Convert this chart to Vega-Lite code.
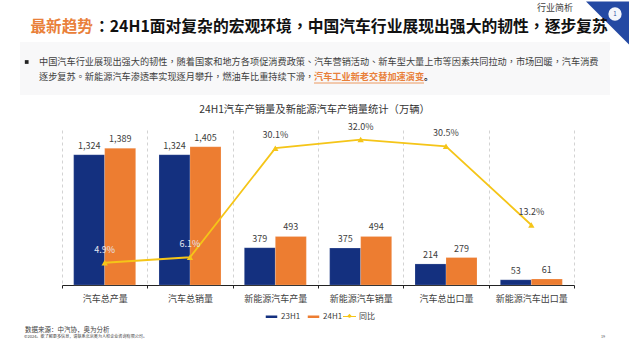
{
"$schema":"https://vega.github.io/schema/vega-lite/v6.json",
"width":512,"height":155,
"autosize":{"type":"none"},
"padding":{"left":62,"top":130,"right":56,"bottom":69},
"background":"#ffffff",
"config":{"font":"Noto Sans CJK SC","view":{"stroke":null},"text":{"font":"Noto Sans CJK SC"}},
"resolve":{"scale":{"x":"independent","y":"independent","color":"independent","size":"independent"},"axis":{"x":"independent","y":"independent"},"legend":{"color":"independent"}},
"layer":[
{"layer":[
{"data":{"values":[{"item":"panel"}]},"mark":{"type":"point","filled":true,"opacity":1,"shape":"M-11.13,-1H11.13V1H-11.13Z","size":2809,"color":"#f8f8f9"},
 "encoding":{"x":{"datum":315,"scale":{"domain":[0,630],"range":[-62,568],"nice":false,"zero":false},"axis":null},"y":{"datum":68.5,"scale":{"domain":[0,354],"range":[-130,224],"nice":false,"zero":false},"axis":null}}},
{"data":{"values":[{"item":"badge"}]},"mark":{"type":"point","filled":true,"opacity":1,"shape":"M-1,-1L1,-1L1,1Z","size":1849,"color":"#2449a3"},
 "encoding":{"x":{"datum":607.5},"y":{"datum":23}}},
{"data":{"values":[{"item":"badge"}]},"mark":{"type":"point","filled":true,"opacity":1,"shape":"circle","size":177,"color":"#f4f6fb"},
 "encoding":{"x":{"datum":615},"y":{"datum":14}}},
{"data":{"values":[{"t":"1"}]},"mark":{"type":"text","fontSize":6,"color":"#2f4f9f"},"encoding":{"x":{"datum":615},"y":{"datum":14},"text":{"field":"t"}}},
{"data":{"values":[{"t":"行业简析"}]},"mark":{"type":"text","fontSize":9,"color":"#404040","align":"left"},"encoding":{"x":{"datum":537},"y":{"datum":8},"text":{"field":"t"}}},
{"data":{"values":[{"t":"最新趋势"}]},"mark":{"type":"text","fontSize":15.6,"fontWeight":"bold","color":"#e9803a","align":"left"},"encoding":{"x":{"datum":30.5},"y":{"datum":27},"text":{"field":"t"}}},
{"data":{"values":[{"t":"：24H1面对复杂的宏观环境，中国汽车行业展现出强大的韧性，逐步复苏"}]},"mark":{"type":"text","font":"Noto Sans CJK TC","fontSize":15.8,"fontWeight":"bold","color":"#111111","align":"left"},"encoding":{"x":{"datum":94},"y":{"datum":27},"text":{"field":"t"}}},
{"data":{"values":[{"item":"bullet"}]},"mark":{"type":"point","filled":true,"opacity":1,"shape":"square","size":14,"color":"#222222"},"encoding":{"x":{"datum":26.7},"y":{"datum":62}}},
{"data":{"values":[{"t":"中国汽车行业展现出强大的韧性，随着国家和地方各项促消费政策、汽车营销活动、新车型大量上市等因素共同拉动，市场回暖，汽车消费"}]},"mark":{"type":"text","font":"Noto Sans CJK TC","fontSize":9.18,"color":"#404040","align":"left"},"encoding":{"x":{"datum":39},"y":{"datum":62},"text":{"field":"t"}}},
{"data":{"values":[{"t":"逐步复苏。新能源汽车渗透率实现逐月攀升，燃油车比重持续下滑，"}]},"mark":{"type":"text","font":"Noto Sans CJK TC","fontSize":9.18,"color":"#404040","align":"left"},"encoding":{"x":{"datum":39},"y":{"datum":77},"text":{"field":"t"}}},
{"data":{"values":[{"t":"汽车工业新老交替加速演变"}]},"mark":{"type":"text","fontSize":9.18,"fontWeight":"bold","color":"#e9803a","align":"left"},"encoding":{"x":{"datum":314},"y":{"datum":77},"text":{"field":"t"}}},
{"data":{"values":[{"t":"。"}]},"mark":{"type":"text","fontSize":9.18,"fontWeight":"bold","color":"#222222","align":"left"},"encoding":{"x":{"datum":424},"y":{"datum":77},"text":{"field":"t"}}},
{"data":{"values":[{"item":"underline"}]},"mark":{"type":"rule","color":"#e9803a","strokeWidth":0.8},"encoding":{"x":{"datum":314},"x2":{"datum":424},"y":{"datum":83}}},
{"data":{"values":[{"t":"24H1汽车产销量及新能源汽车产销量统计（万辆）"}]},"mark":{"type":"text","fontSize":10.3,"fontWeight":400,"color":"#333333"},"encoding":{"x":{"datum":314.5},"y":{"datum":110},"text":{"field":"t"}}},
{"data":{"values":[{"t":"数据来源：中汽协，奥为分析"}]},"mark":{"type":"text","fontSize":6.5,"color":"#404040","align":"left"},"encoding":{"x":{"datum":25},"y":{"datum":330},"text":{"field":"t"}}},
{"data":{"values":[{"t":"©2024。欲了解更多信息，请联系北京奥为人和企业咨询有限公司。"}]},"mark":{"type":"text","fontSize":4.1,"color":"#404040","align":"left"},"encoding":{"x":{"datum":24},"y":{"datum":337},"text":{"field":"t"}}},
{"data":{"values":[{"t":"19"}]},"mark":{"type":"text","fontSize":3.8,"color":"#606060","align":"left"},"encoding":{"x":{"datum":601},"y":{"datum":337},"text":{"field":"t"}}}
]},
{"resolve":{"scale":{"y":"independent"},"axis":{"y":"independent"}},
 "layer":[
 {"data":{"values":[
  {"cat":"汽车总产量","period":"23H1","v":1324},{"cat":"汽车总产量","period":"24H1","v":1389},
  {"cat":"汽车总销量","period":"23H1","v":1324},{"cat":"汽车总销量","period":"24H1","v":1405},
  {"cat":"新能源汽车产量","period":"23H1","v":379},{"cat":"新能源汽车产量","period":"24H1","v":493},
  {"cat":"新能源汽车销量","period":"23H1","v":375},{"cat":"新能源汽车销量","period":"24H1","v":494},
  {"cat":"汽车总出口量","period":"23H1","v":214},{"cat":"汽车总出口量","period":"24H1","v":279},
  {"cat":"新能源汽车出口量","period":"23H1","v":53},{"cat":"新能源汽车出口量","period":"24H1","v":61}]},
  "encoding":{
   "x":{"field":"cat","type":"nominal","sort":null,"scale":{"paddingInner":0,"paddingOuter":0},
    "axis":{"orient":"bottom","title":null,"labelAngle":0,"labelFontSize":9,"labelColor":"#404040","labelPadding":6,"domainColor":"#222222","domainWidth":1.2,"tickColor":"#222222","tickSize":3,"tickBand":"extent","grid":true,"gridColor":"#c8c8c8","gridDash":[3,3],"gridWidth":0.8}},
   "xOffset":{"field":"period","type":"nominal","scale":{"paddingOuter":0.376,"paddingInner":0}},
   "y":{"field":"v","type":"quantitative","scale":{"domain":[0,1575]},"axis":null}},
  "layer":[
   {"mark":{"type":"bar","stroke":"#ffffff","strokeOpacity":0.35,"strokeWidth":0.5},
    "encoding":{"color":{"field":"period","type":"nominal","scale":{"domain":["23H1","24H1"],"range":["#14307f","#ed7d31"]},
     "legend":{"orient":"none","legendX":202,"legendY":179,"direction":"horizontal","title":null,"labelFontSize":8,"labelColor":"#404040","symbolSize":169,"columnPadding":3,"labelOffset":2,"symbolOpacity":1,"symbolType":"M-1,-0.3H1V0.3H-1Z","padding":0}}}},
   {"mark":{"type":"text","dy":-9,"fontSize":9,"color":"#404040"},"encoding":{"text":{"field":"v","type":"quantitative","format":","}}}
  ]},
 {"data":{"values":[
  {"cat":"汽车总产量","yoy":4.9,"label":"4.9%"},{"cat":"汽车总销量","yoy":6.1,"label":"6.1%"},{"cat":"新能源汽车产量","yoy":30.1,"label":"30.1%"},
  {"cat":"新能源汽车销量","yoy":32.0,"label":"32.0%"},{"cat":"汽车总出口量","yoy":30.5,"label":"30.5%"},{"cat":"新能源汽车出口量","yoy":13.2,"label":"13.2%"}]},
  "encoding":{
   "x":{"field":"cat","type":"nominal","sort":null},
   "y":{"field":"yoy","type":"quantitative","scale":{"domain":[0,34.1]},"axis":null}},
  "layer":[
   {"mark":{"type":"line","strokeWidth":1.8},"encoding":{"stroke":{"datum":"同比","type":"nominal","scale":{"domain":["同比"],"range":["#f5c518"]},
     "legend":{"orient":"none","legendX":280,"legendY":179,"title":null,"labelFontSize":8,"labelColor":"#404040","symbolSize":169,"labelOffset":2,"symbolOpacity":1,"symbolStrokeWidth":1.2,"symbolFillColor":"#f5c518","symbolType":"M-1,0H-0.25L0,-0.28L0.25,0H1M-0.25,0L0,0.1L0.25,0","padding":0}}}},
   {"mark":{"type":"point","filled":true,"opacity":1,"shape":"triangle-up","size":40,"color":"#f5c518"}},
   {"mark":{"type":"text","dy":-13,"fontSize":9},
    "encoding":{"text":{"field":"label"},"color":{"condition":{"test":"datum.yoy<10","value":"#e4e6f0"},"value":"#404040"}}}
  ]}
 ]}
]}
